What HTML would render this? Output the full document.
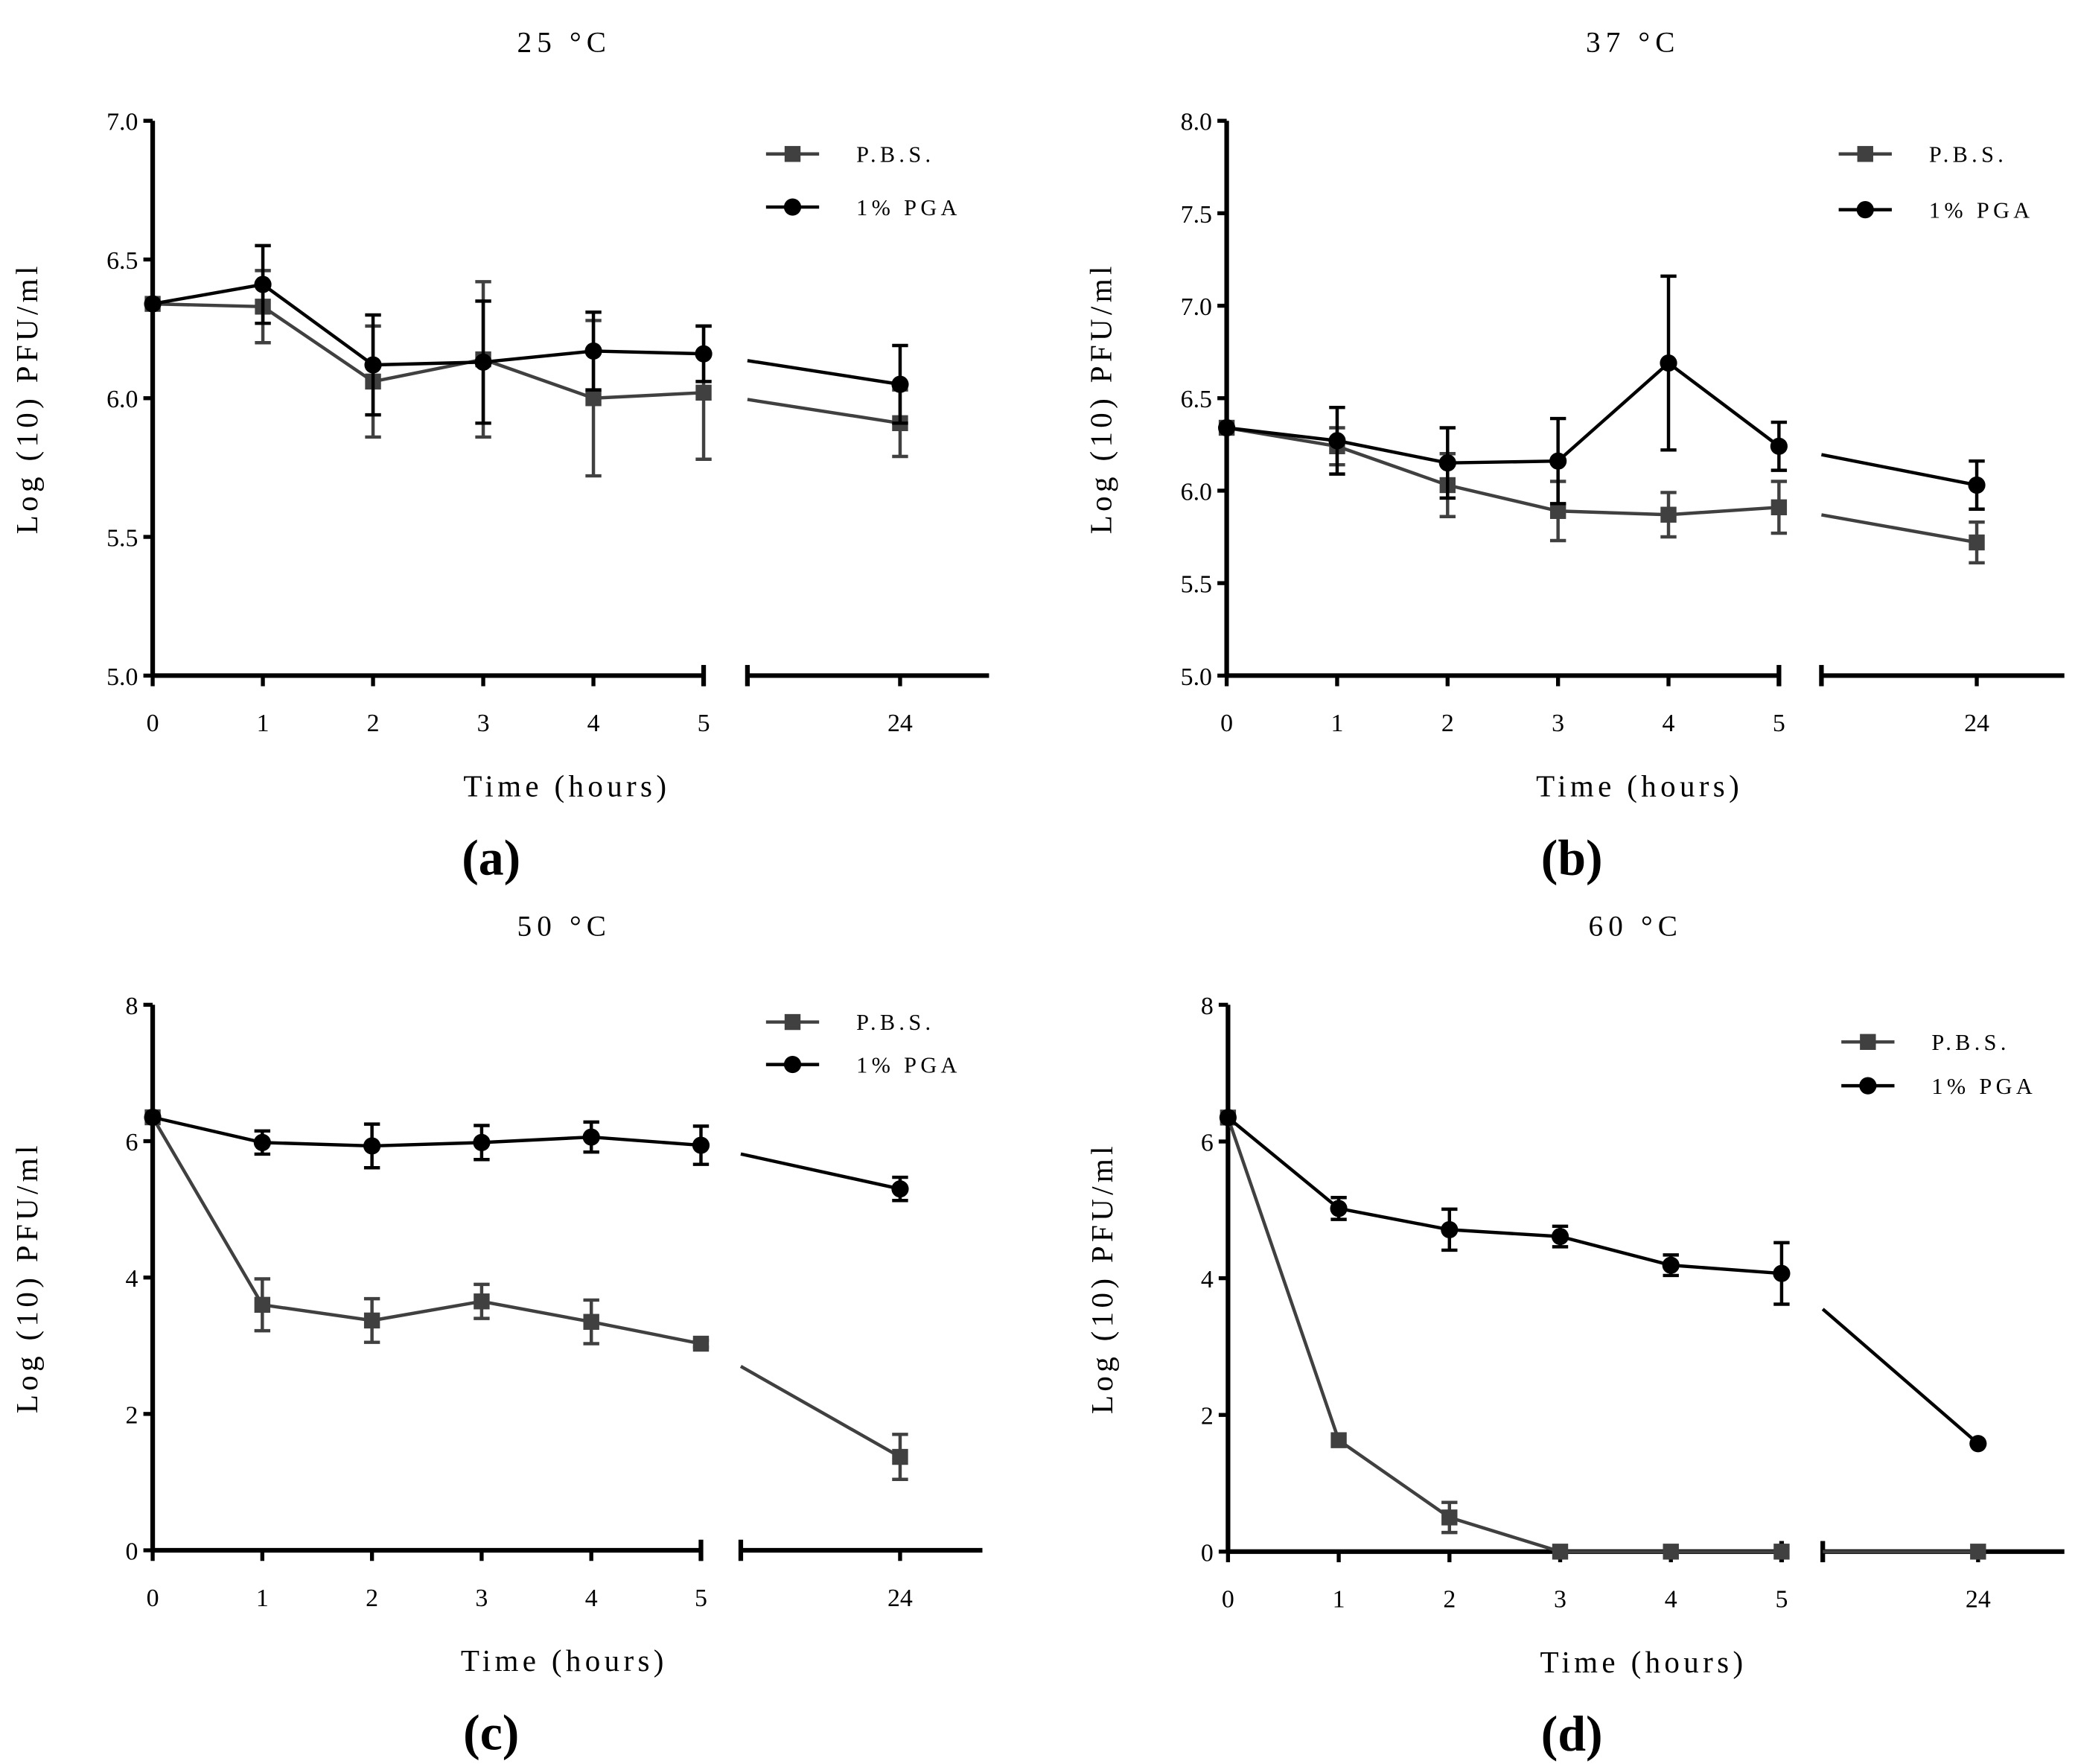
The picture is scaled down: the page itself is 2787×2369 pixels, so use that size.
<!DOCTYPE html>
<html><head><meta charset="utf-8"><style>
html,body{margin:0;padding:0;background:#fff}
svg{display:block}
text{font-family:"Liberation Serif",serif;fill:#000}
</style></head><body>
<svg id="fig" width="2787" height="2369" viewBox="0 0 1563 1329" preserveAspectRatio="none" xmlns="http://www.w3.org/2000/svg"></svg>
<script>
const xCats = ["0","1","2","3","4","5","24"];
const pbsA = [6.34,6.33,6.06,6.14,6.00,6.02,5.91];
const pbsAErr = [0,0.13,0.20,0.28,0.28,0.24,0.12];
const pgaA = [6.34,6.41,6.12,6.13,6.17,6.16,6.05];
const pgaAErr = [0,0.14,0.18,0.22,0.14,0.10,0.14];
const pbsB = [6.34,6.24,6.03,5.89,5.87,5.91,5.72];
const pbsBErr = [0,0.10,0.17,0.16,0.12,0.14,0.11];
const pgaB = [6.34,6.27,6.15,6.16,6.69,6.24,6.03];
const pgaBErr = [0,0.18,0.19,0.23,0.47,0.13,0.13];
const pbsC = [6.35,3.60,3.37,3.65,3.35,3.03,1.37];
const pbsCErr = [0,0.38,0.32,0.25,0.32,0.05,0.33];
const pgaC = [6.35,5.98,5.93,5.98,6.06,5.94,5.30];
const pgaCErr = [0,0.17,0.32,0.25,0.22,0.28,0.17];
const pbsD = [6.35,1.63,0.50,0,0,0,0];
const pbsDErr = [0,0,0.22,0,0,0,0];
const pgaD = [6.35,5.02,4.71,4.61,4.19,4.07,1.58];
const pgaDErr = [0,0.16,0.30,0.15,0.15,0.45,0];
const ticksAB1 = [5.0,5.5,6.0,6.5,7.0];
const ticksB = [5.0,5.5,6.0,6.5,7.0,7.5,8.0];
const ticksCD = [0,2,4,6,8];
const titles = ["25 \u00B0C","37 \u00B0C","50 \u00B0C","60 \u00B0C"];

const NS="http://www.w3.org/2000/svg";
const svg=document.getElementById('fig');
function el(t,a,p){const e=document.createElementNS(NS,t);for(const k in a)e.setAttribute(k,a[k]);(p||svg).appendChild(e);return e;}

const panels=[
 {id:'a',x0:115,x5:530,seg:563,segEnd:745,x24:678,yT:91,yB:509,min:5,max:7,ticks:ticksAB1,dec:1,pbs:pbsA,pe:pbsAErr,pga:pgaA,ge:pgaAErr,leg:[577,116,156],tcx:425,lab:370,xl:427},
 {id:'b',x0:924,x5:1340,seg:1372,segEnd:1555,x24:1489,yT:91,yB:509,min:5,max:8,ticks:ticksB,dec:1,pbs:pbsB,pe:pbsBErr,pga:pgaB,ge:pgaBErr,leg:[1385,116,158],tcx:1230,lab:1184,xl:1235},
 {id:'c',x0:115,x5:528,seg:558,segEnd:740,x24:678,yT:757,yB:1168,min:0,max:8,ticks:ticksCD,dec:0,pbs:pbsC,pe:pbsCErr,pga:pgaC,ge:pgaCErr,leg:[577,770,802],tcx:425,lab:370,xl:425},
 {id:'d',x0:925,x5:1342,seg:1373,segEnd:1555,x24:1490,yT:757,yB:1169,min:0,max:8,ticks:ticksCD,dec:0,pbs:pbsD,pe:pbsDErr,pga:pgaD,ge:pgaDErr,leg:[1387,785,818],tcx:1232,lab:1184,xl:1238}
];

panels.forEach((P,pi)=>{
 const g=el('g',{});
 
 
 const xs=i=> i<6 ? P.x0+(P.x5-P.x0)*i/5 : P.x24;
 const ys=v=> P.yB-(v-P.min)/(P.max-P.min)*(P.yB-P.yT);
 const t=el('text',{x:P.tcx,y:P.yT-52,'font-size':22,'text-anchor':'middle','letter-spacing':'4'},g);
 t.textContent=titles[pi];
 
 
 const ya=el('line',{x1:P.x0,y1:P.yT,x2:P.x0,y2:P.yB,stroke:'#000','stroke-width':3.5},g);
 
 
 const xa1=el('line',{x1:P.x0,y1:P.yB,x2:P.x5,y2:P.yB,stroke:'#000','stroke-width':3.5},g);
 
 
 const xa2=el('line',{x1:P.seg,y1:P.yB,x2:P.segEnd,y2:P.yB,stroke:'#000','stroke-width':3.5},g);
 
 
 el('line',{x1:P.x5,y1:P.yB-8,x2:P.x5,y2:P.yB+8,stroke:'#000','stroke-width':3.5},g);
 el('line',{x1:P.seg,y1:P.yB-8,x2:P.seg,y2:P.yB+8,stroke:'#000','stroke-width':3.5},g);
 P.ticks.forEach(v=>{
  el('line',{x1:P.x0-7,y1:ys(v),x2:P.x0,y2:ys(v),stroke:'#000','stroke-width':3},g);
  const tl=el('text',{x:P.x0-11,y:ys(v)+7,'font-size':19,'text-anchor':'end'},g);
  tl.textContent=v.toFixed(P.dec);
  
  
 });
 xCats.forEach((c,i)=>{
  el('line',{x1:xs(i),y1:P.yB,x2:xs(i),y2:P.yB+8,stroke:'#000','stroke-width':3},g);
  const tl=el('text',{x:xs(i),y:P.yB+42,'font-size':19,'text-anchor':'middle'},g);
  tl.textContent=c;
  
  
 });
 const xt=el('text',{x:P.xl,y:P.yB+91,'font-size':23,'text-anchor':'middle','letter-spacing':'3'},g);
 xt.textContent='Time (hours)';
 
 
 const yt=el('text',{x:0,y:0,'font-size':23,'text-anchor':'middle','letter-spacing':'3',transform:`translate(${P.x0-87},${(P.yT+P.yB)/2}) rotate(-90)`},g);
 yt.textContent='Log (10) PFU/ml';
 
 
 const pl=el('text',{x:P.lab,y:P.yB+150,'font-size':38,'font-weight':'bold','text-anchor':'middle','font-family':'"Liberation Sans",sans-serif'},g);
 pl.textContent='('+P.id+')';
 
 
 [[P.pbs,P.pe,'#404040','sq','pbs'],[P.pga,P.ge,'#000','ci','pga']].forEach(([vals,errs,col,shape,nm])=>{
  let d='';
  for(let i=0;i<6;i++) d+=(i?'L':'M')+xs(i)+' '+ys(vals[i]);
  const yStart=ys(vals[5])+(ys(vals[6])-ys(vals[5]))*(P.seg-xs(5))/(xs(6)-xs(5));
  d+=`M${P.seg} ${yStart}L${xs(6)} ${ys(vals[6])}`;
  const ln=el('path',{d:d,fill:'none',stroke:col,'stroke-width':2.5},g);
  
  
  vals.forEach((v,i)=>{
   const e=errs[i];
   if(e>0){
    const eb=el('path',{d:`M${xs(i)} ${ys(v-e)}L${xs(i)} ${ys(v+e)}M${xs(i)-6} ${ys(v-e)}L${xs(i)+6} ${ys(v-e)}M${xs(i)-6} ${ys(v+e)}L${xs(i)+6} ${ys(v+e)}`,stroke:col,'stroke-width':2.5,fill:'none'},g);
    
    
   }
   let m;
   if(shape==='sq') m=el('rect',{x:xs(i)-6,y:ys(v)-6,width:12,height:12,fill:col},g);
   else m=el('circle',{cx:xs(i),cy:ys(v),r:6.5,fill:col},g);
   
   
  });
 });
 const [lx,ly1,ly2]=P.leg;
 const lg=el('g',{},g);
 
 
 el('line',{x1:lx,y1:ly1,x2:lx+40,y2:ly1,stroke:'#404040','stroke-width':2.5},lg);
 el('rect',{x:lx+14,y:ly1-6,width:12,height:12,fill:'#404040'},lg);
 const l1=el('text',{x:lx+68,y:ly1+6,'font-size':17,'letter-spacing':'3'},lg);
 l1.textContent='P.B.S.';
 
 
 el('line',{x1:lx,y1:ly2,x2:lx+40,y2:ly2,stroke:'#000','stroke-width':2.5},lg);
 el('circle',{cx:lx+20,cy:ly2,r:6.5,fill:'#000'},lg);
 const l2=el('text',{x:lx+68,y:ly2+6,'font-size':17,'letter-spacing':'3'},lg);
 l2.textContent='1% PGA';
 
 
});
</script>
</body></html>
